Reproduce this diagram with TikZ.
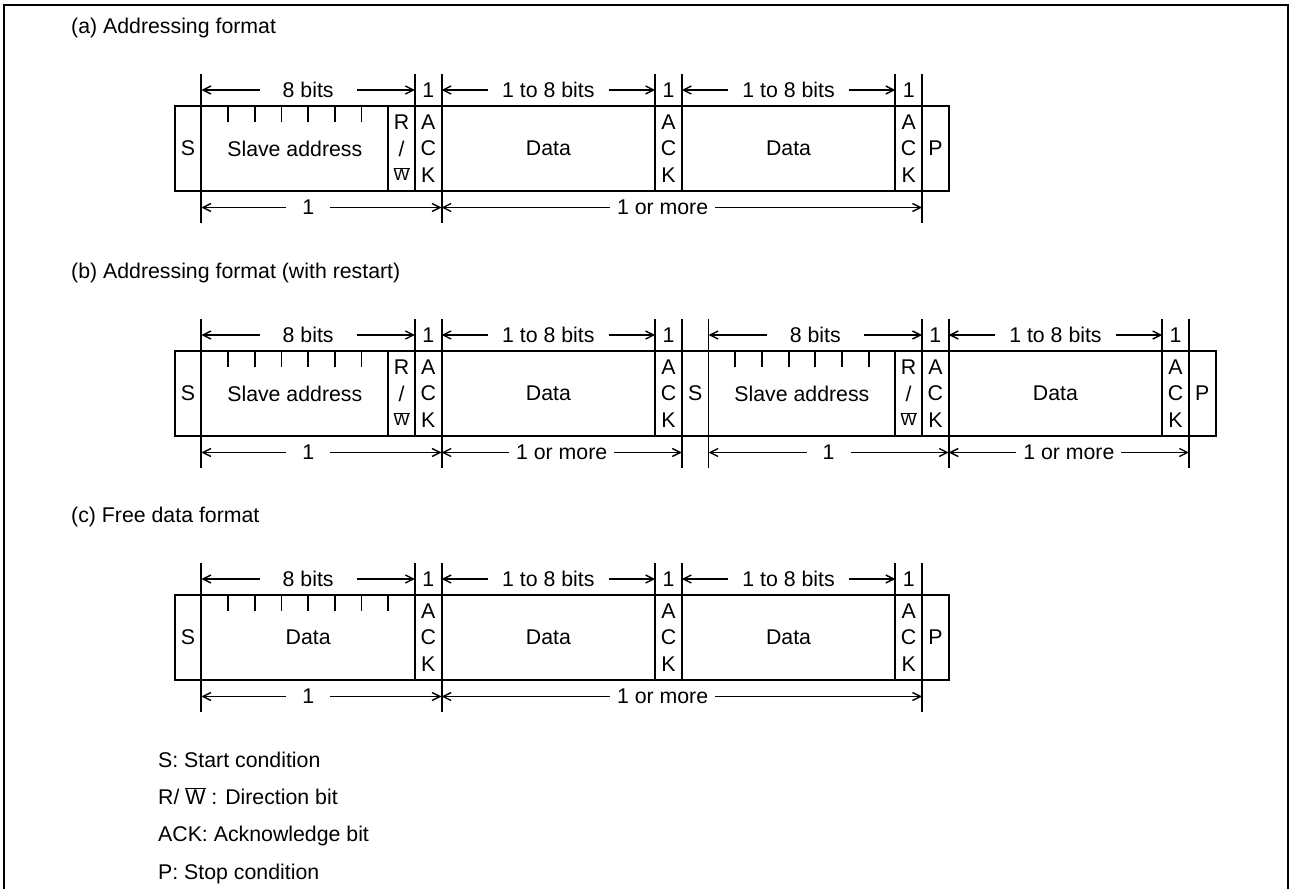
\documentclass[tikz,border=0pt]{standalone}
\usepackage{fontspec}
\setmainfont{Liberation Sans}
\usetikzlibrary{arrows.meta}
\newcommand\ackcol[2]{%
  \node (#2a) at (#1,16) {A};
  \node (#2c) at (#1,42.5) {C};
  \node (#2k) at (#1,69) {K};}
\newcommand\rwcol[2]{%
  \node (#2r) at (#1,16) {R};
  \node (#2s) at (#1,42.5) {/};
  \node (#2w) at (#1,68) {\fontsize{17}{20}\selectfont$\overline{\mbox{W}}$};}
\begin{document}
\begin{tikzpicture}[x=1pt,y=-1pt,
  every node/.style={font=\fontsize{21.3}{25}\selectfont, inner sep=0pt},
  frame/.style={line width=2pt},
  cellbox/.style={line width=1.9pt},
  extline/.style={line width=1.8pt},
  dimline/.style={line width=1.4pt, {Straight Barb[length=8pt,width=8pt,line width=1.4pt]}-{Straight Barb[length=8pt,width=8pt,line width=1.4pt]}},
  dimlabel/.style={fill=white, inner xsep=#1, inner ysep=2pt},
  rowscope/.style={xshift=174.7pt, yshift=-#1pt, x=26.69pt}]
\useasboundingbox (0,0) rectangle (1289,888);
% frame
\coordinate (fbl) at (4,900);
\coordinate (ftl) at (4,5);
\coordinate (ftr) at (1287.7,5);
\coordinate (fbr) at (1287.7,900);
\begin{scope}
\clip (0,0) rectangle (1289,888);
\draw[frame] (fbl) -- (ftl) -- (ftr) -- (fbr);
\end{scope}
% titles
\node[anchor=base west] (ta) at (71,33.3) {(a) Addressing format};
\node[anchor=base west] (tb) at (71,278.3) {(b) Addressing format (with restart)};
\node[anchor=base west] (tc) at (71,522.3) {(c) Free data format};

% ---------------- (a) ----------------
\begin{scope}[rowscope=106]
 \draw[cellbox] (0,0) rectangle (29,85);
 \foreach \k in {1,8,9,10,18,19,27,28} \draw[cellbox] (\k,0) -- (\k,85);
 \foreach \k in {2,...,7} \draw[cellbox] (\k,0) -- (\k,16);
 \foreach \k in {1,9,10,18,19,27,28} \draw[extline] (\k,-32) -- (\k,0);
 \foreach \k in {1,10,28} \draw[extline] (\k,85) -- (\k,117);
 \node (aS) at (0.5,42.5) {S};
 \node (aSA) at (4.5,42.5) {Slave address};
 \rwcol{8.5}{arw}
 \ackcol{9.5}{aack1}
 \node (aD1) at (14,42.5) {Data};
 \ackcol{18.5}{aack2}
 \node (aD2) at (23,42.5) {Data};
 \ackcol{27.5}{aack3}
 \node (aP) at (28.5,42.5) {P};
 \foreach \k in {1,9,10,18,19,27,28,29} {\coordinate (at\k) at (\k,-16); \coordinate (ab\k) at (\k,101.5);}
 \draw[dimline] (at1) -- (at9) node[midway,dimlabel=23pt] (al1) {8 bits};
 \draw[dimline] (at10) -- (at18) node[midway,dimlabel=14pt] (al2) {1 to 8 bits};
 \draw[dimline] (at19) -- (at27) node[midway,dimlabel=14pt] (al3) {1 to 8 bits};
 \node (ao1) at (9.5,-16) {1};
 \node (ao2) at (18.5,-16) {1};
 \node (ao3) at (27.5,-16) {1};
 \draw[dimline] (ab1) -- (ab10) node[pos=0.445,dimlabel=16pt] (abl1) {1};
 \draw[dimline] (ab10) -- (ab28) node[pos=0.46,dimlabel=7pt] (abl2) {1 or more};
\end{scope}

% ---------------- (b) ----------------
\begin{scope}[rowscope=351]
 \draw[cellbox] (0,0) rectangle (39,85);
 \foreach \k in {1,8,9,10,18,19,20,27,28,29,37,38} \draw[cellbox] (\k,0) -- (\k,85);
 \foreach \k in {2,...,7,21,22,23,24,25,26} \draw[cellbox] (\k,0) -- (\k,16);
 \foreach \k in {1,9,10,18,19,20,28,29,37,38} \draw[extline] (\k,-32) -- (\k,0);
 \foreach \k in {1,10,19,20,29,38} \draw[extline] (\k,85) -- (\k,117);
 \node (bS1) at (0.5,42.5) {S};
 \node (bSA1) at (4.5,42.5) {Slave address};
 \rwcol{8.5}{brw1}
 \ackcol{9.5}{back1}
 \node (bD1) at (14,42.5) {Data};
 \ackcol{18.5}{back2}
 \node (bS2) at (19.5,42.5) {S};
 \node (bSA2) at (23.5,42.5) {Slave address};
 \rwcol{27.5}{brw2}
 \ackcol{28.5}{back3}
 \node (bD2) at (33,42.5) {Data};
 \ackcol{37.5}{back4}
 \node (bP) at (38.5,42.5) {P};
 \foreach \k in {1,9,10,18,19,20,28,29,37,38} {\coordinate (bt\k) at (\k,-16); \coordinate (bb\k) at (\k,101.5);}
 \draw[dimline] (bt1) -- (bt9) node[midway,dimlabel=23pt] (bl1) {8 bits};
 \draw[dimline] (bt10) -- (bt18) node[midway,dimlabel=14pt] (bl2) {1 to 8 bits};
 \draw[dimline] (bt20) -- (bt28) node[midway,dimlabel=23pt] (bl3) {8 bits};
 \draw[dimline] (bt29) -- (bt37) node[midway,dimlabel=14pt] (bl4) {1 to 8 bits};
 \node (bo1) at (9.5,-16) {1};
 \node (bo2) at (18.5,-16) {1};
 \node (bo3) at (28.5,-16) {1};
 \node (bo4) at (37.5,-16) {1};
 \draw[dimline] (bb1) -- (bb10) node[pos=0.445,dimlabel=16pt] (bbl1) {1};
 \draw[dimline] (bb10) -- (bb19) node[midway,dimlabel=7pt] (bbl2) {1 or more};
 \draw[dimline] (bb20) -- (bb29) node[midway,dimlabel=16pt] (bbl3) {1};
 \draw[dimline] (bb29) -- (bb38) node[midway,dimlabel=7pt] (bbl4) {1 or more};
\end{scope}

% ---------------- (c) ----------------
\begin{scope}[rowscope=595]
 \draw[cellbox] (0,0) rectangle (29,85);
 \foreach \k in {1,9,10,18,19,27,28} \draw[cellbox] (\k,0) -- (\k,85);
 \foreach \k in {2,...,8} \draw[cellbox] (\k,0) -- (\k,16);
 \foreach \k in {1,9,10,18,19,27,28} \draw[extline] (\k,-32) -- (\k,0);
 \foreach \k in {1,10,28} \draw[extline] (\k,85) -- (\k,117);
 \node (cS) at (0.5,42.5) {S};
 \node (cD0) at (5,42.5) {Data};
 \ackcol{9.5}{cack1}
 \node (cD1) at (14,42.5) {Data};
 \ackcol{18.5}{cack2}
 \node (cD2) at (23,42.5) {Data};
 \ackcol{27.5}{cack3}
 \node (cP) at (28.5,42.5) {P};
 \foreach \k in {1,9,10,18,19,27,28} {\coordinate (ct\k) at (\k,-16); \coordinate (cb\k) at (\k,101.5);}
 \draw[dimline] (ct1) -- (ct9) node[midway,dimlabel=23pt] (cl1) {8 bits};
 \draw[dimline] (ct10) -- (ct18) node[midway,dimlabel=14pt] (cl2) {1 to 8 bits};
 \draw[dimline] (ct19) -- (ct27) node[midway,dimlabel=14pt] (cl3) {1 to 8 bits};
 \node (co1) at (9.5,-16) {1};
 \node (co2) at (18.5,-16) {1};
 \node (co3) at (27.5,-16) {1};
 \draw[dimline] (cb1) -- (cb10) node[pos=0.445,dimlabel=16pt] (cbl1) {1};
 \draw[dimline] (cb10) -- (cb28) node[pos=0.46,dimlabel=7pt] (cbl2) {1 or more};
\end{scope}

% legend
\node[anchor=base west] (lg1) at (158,767.7) {S: Start condition};
\node[anchor=base west] (lg2) at (158,804) {R/ $\overline{\mbox{W}}$ : Direction bit};
\node[anchor=base west] (lg3) at (158,841.7) {ACK: Acknowledge bit};
\node[anchor=base west] (lg4) at (158,879) {P: Stop condition};
\end{tikzpicture}
\end{document}
